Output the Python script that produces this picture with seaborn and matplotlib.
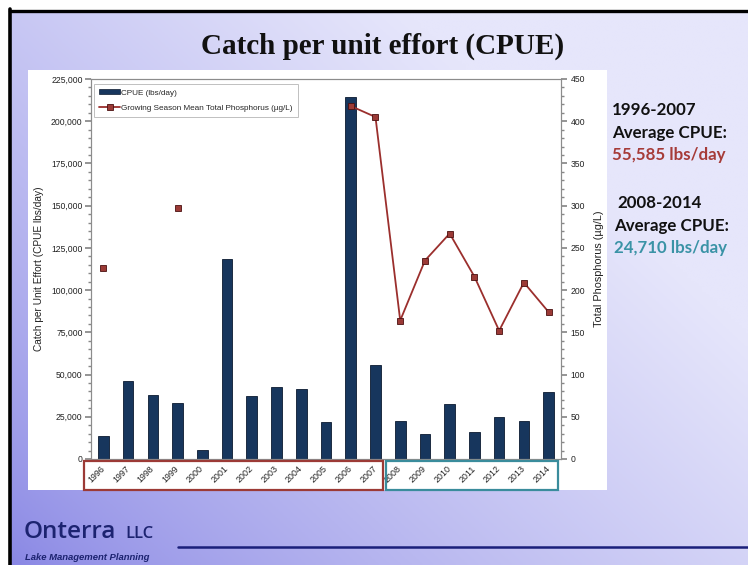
import numpy as np
import seaborn as sns
import matplotlib
matplotlib.use("Agg")
import matplotlib.pyplot as plt
from matplotlib.patches import Rectangle, Patch
from matplotlib.lines import Line2D
from matplotlib.ticker import FuncFormatter, MultipleLocator

# data
years = [str(y) for y in range(1996, 2015)]
cpue = [13800, 46200, 37700, 33200, 5300, 118200, 37500, 42800, 41400, 21900,
        214300, 55700, 22700, 14800, 32600, 16000, 24900, 22700, 39900]
phosphorus = [226, np.nan, np.nan, 297, np.nan, np.nan, np.nan, np.nan, np.nan, np.nan,
              418, 405, 164, 235, 267, 216, 152, 209, 174]
left_ticks = [0, 25000, 50000, 75000, 100000, 125000, 150000, 175000, 200000, 225000]
right_ticks = [0, 50, 100, 150, 200, 250, 300, 350, 400, 450]

BAR = "#17365d"
RED = "#9b2f2d"
W, H = 748, 565

sns.set_theme(style="white")
plt.rcParams["font.family"] = ["Liberation Sans", "DejaVu Sans"]

fig = plt.figure(figsize=(W / 100, H / 100), dpi=100)
fig.patch.set_facecolor("white")

def fx(px):
    return px / W

def fy(py):
    return 1 - py / H

# slide background gradient (dark bottom-left -> light top-right)
bg = fig.add_axes([fx(10), 0, 1 - fx(10), fy(10)], zorder=-5)
gx, gy = np.meshgrid(np.linspace(0, 1, 200), np.linspace(1, 0, 200))
t = np.clip(0.75 * gx + 0.6 * gy, 0, 1) ** 0.75
dark = np.array([136, 134, 228]) / 255
light = np.array([230, 230, 251]) / 255
img = dark[None, None, :] * (1 - t[..., None]) + light[None, None, :] * t[..., None]
bg.imshow(img, aspect="auto", extent=[0, 1, 0, 1])
bg.set_axis_off()

# black slide border (top and left)
fig.add_artist(Line2D([fx(10), 1], [fy(10.5), fy(10.5)], color="black", lw=2.4, zorder=-3))
fig.add_artist(Line2D([fx(10), fx(10)], [0, fy(9)], color="black", lw=2.6, zorder=-3))

# white chart panel
fig.add_artist(Rectangle((fx(28), fy(490)), fx(607 - 28), (490 - 70) / H, zorder=-4,
                         facecolor="white", edgecolor="none", transform=fig.transFigure))

ax = fig.add_axes([fx(91), fy(459), fx(561 - 91), (459 - 79) / H])
sns.barplot(x=years, y=cpue, color=BAR, width=0.43, edgecolor="#0b1a30",
            linewidth=0.6, saturation=1, ax=ax)
ax.set_xlim(-0.5, 18.5)
ax.set_ylim(0, 225000)
ax.set_yticks(left_ticks)
ax.yaxis.set_minor_locator(MultipleLocator(5000))
ax.yaxis.set_major_formatter(FuncFormatter(lambda v, p: f"{int(v):,}"))
ax.set_ylabel("Catch per Unit Effort (CPUE lbs/day)", fontsize=7.3, color="#222", labelpad=5)
ax.set_xlabel("")
ax.set_xticks(range(len(years)))
ax.set_xticklabels(years, rotation=45, ha="right", va="center", rotation_mode="anchor",
                   fontsize=6.4, color="#222")
ax.set_xticks(np.arange(-0.5, 18.6, 1), minor=True)
ax.tick_params(axis="x", which="major", length=0, pad=6)
ax.tick_params(axis="x", which="minor", length=3, color="#888", direction="out")
ax.tick_params(axis="y", which="major", length=4, color="#888", labelsize=6.2,
               labelcolor="#222", left=True, direction="out", pad=2)
ax.tick_params(axis="y", which="minor", length=2, color="#888", left=True, direction="out")
for s in ax.spines.values():
    s.set_color("#8c8c8c")
    s.set_linewidth(0.8)
ax.set_facecolor("none")

ax2 = ax.twinx()
ax2.plot(range(len(years)), phosphorus, color=RED, lw=1.3, marker="s", markersize=4.6,
         markerfacecolor="#9b3a36", markeredgecolor="#4a1010", markeredgewidth=0.6)
ax2.set_ylim(0, 450)
ax2.set_yticks(right_ticks)
ax2.yaxis.set_minor_locator(MultipleLocator(10))
ax2.set_ylabel("Total Phosphorus (\u00b5g/L)", fontsize=7.8, color="#222", labelpad=6)
ax2.tick_params(axis="y", which="major", length=4, color="#888", labelsize=6.2,
                labelcolor="#222", right=True, direction="out", pad=3)
ax2.tick_params(axis="y", which="minor", length=2, color="#888", right=True, direction="out")
ax2.grid(False)
ax.grid(False)
for s in ax2.spines.values():
    s.set_color("#8c8c8c")
    s.set_linewidth(0.8)

handles = [Patch(facecolor=BAR, edgecolor="#0b1a30", linewidth=0.5),
           Line2D([], [], color=RED, lw=1.3, marker="s", markersize=4.6,
                  markerfacecolor="#9b3a36", markeredgecolor="#4a1010", markeredgewidth=0.6)]
leg = ax2.legend(handles, ["CPUE (lbs/day)", "Growing Season Mean Total Phosphorus (\u00b5g/L)"],
                 loc="upper left", bbox_to_anchor=(0.003, 0.99), fontsize=5.9, frameon=True,
                 fancybox=False, edgecolor="#b0b0b0", handlelength=2.6, handleheight=0.5,
                 handletextpad=0.1, labelspacing=1.0, borderpad=0.6, borderaxespad=0.2)
leg.get_frame().set_linewidth(0.7)

# period boxes around the year labels
fig.add_artist(Rectangle((fx(84), fy(490)), fx(383 - 84), (490 - 461) / H, facecolor="none",
                         edgecolor="#9c3a36", lw=1.6, transform=fig.transFigure))
fig.add_artist(Rectangle((fx(386), fy(490)), fx(558 - 386), (490 - 461) / H, facecolor="none",
                         edgecolor="#3a8c9c", lw=1.6, transform=fig.transFigure))

fig.text(fx(383), fy(46), "Catch per unit effort (CPUE)", ha="center", va="center",
         fontsize=21, fontweight="bold", family="Liberation Serif", color="#111")

side = dict(fontsize=12.2, fontweight="bold", family=["Lato", "DejaVu Sans"], va="center", ha="left")
fig.text(fx(612), fy(110), "1996-2007", color="#111", **side)
fig.text(fx(612), fy(133), "Average CPUE:", color="#111", **side)
fig.text(fx(612), fy(155), "55,585 lbs/day", color="#a63b38", **side)
fig.text(fx(617), fy(203), "2008-2014", color="#111", **side)
fig.text(fx(614), fy(226), "Average CPUE:", color="#111", **side)
fig.text(fx(614), fy(248), "24,710 lbs/day", color="#3a93a6", **side)

# footer logo
fig.text(fx(24), fy(538), "Onterra", fontsize=17.5, fontweight="semibold",
         family=["Open Sans", "DejaVu Sans"], color="#1c2370", va="baseline", ha="left")
fig.text(fx(125), fy(538), "LLC", fontsize=12, fontweight="semibold",
         family=["Open Sans", "DejaVu Sans"], color="#1c2370", va="baseline", ha="left")
fig.text(fx(25), fy(557), "Lake Management Planning", fontsize=6.8, fontweight="bold",
         style="italic", color="#1c2370", va="center", ha="left")
fig.add_artist(Line2D([fx(178), 1], [fy(547), fy(547)], color="#1a1f7a", lw=1.8))

fig.savefig("out.png", dpi=100)
